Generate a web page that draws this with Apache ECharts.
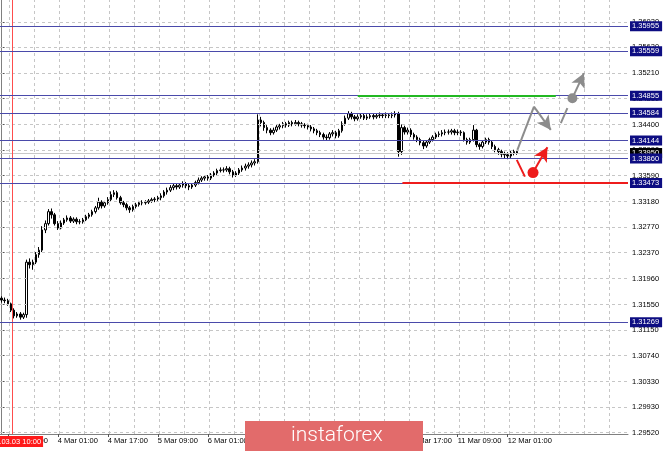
<!DOCTYPE html>
<html>
<head>
<meta charset="utf-8">
<script src="https://cdn.jsdelivr.net/npm/echarts@6/dist/echarts.min.js"></script>
<style>
html,body{margin:0;padding:0;background:#fff;}
#c{width:665px;height:451px;}
</style>
</head>
<body>
<div id="c"></div>
<script>
// ---- data ----
const startTime = '2020-03-03T07:00:00Z';
const totalSlots = 201;
const candles = [ // [open, close, low, high]
[1.3165,1.3162,1.3158,1.3168],[1.3162,1.3161,1.3157,1.3166],[1.3161,1.3156,1.3153,1.3164],[1.3156,1.3146,1.3143,1.3158],
[1.3146,1.3137,1.3133,1.3149],[1.3137,1.3140,1.3134,1.3143],[1.3140,1.3135,1.3131,1.3143],[1.3135,1.3139,1.3132,1.3142],
[1.3139,1.3222,1.3134,1.3226],[1.3222,1.3218,1.3212,1.3228],[1.3218,1.3222,1.3210,1.3226],[1.3222,1.3234,1.3219,1.3238],
[1.3234,1.3241,1.3229,1.3246],[1.3241,1.3273,1.3238,1.3279],[1.3273,1.3283,1.3268,1.3288],[1.3283,1.3302,1.3280,1.3306],
[1.3302,1.3297,1.3291,1.3307],[1.3297,1.3283,1.3280,1.3300],[1.3283,1.3276,1.3273,1.3287],[1.3276,1.3284,1.3274,1.3288],
[1.3284,1.3289,1.3281,1.3292],[1.3289,1.3292,1.3286,1.3296],[1.3292,1.3287,1.3284,1.3295],[1.3287,1.3290,1.3284,1.3293],
[1.3290,1.3286,1.3282,1.3293],[1.3286,1.3286,1.3282,1.3290],[1.3286,1.3289,1.3283,1.3292],[1.3289,1.3294,1.3287,1.3297],
[1.3294,1.3297,1.3291,1.3300],[1.3297,1.3302,1.3294,1.3305],[1.3302,1.3308,1.3299,1.3311],[1.3308,1.3317,1.3305,1.3324],
[1.3317,1.3311,1.3307,1.3320],[1.3311,1.3316,1.3308,1.3319],[1.3316,1.3321,1.3313,1.3325],[1.3321,1.3329,1.3318,1.3334],
[1.3329,1.3332,1.3325,1.3336],[1.3332,1.3324,1.3321,1.3335],[1.3324,1.3316,1.3313,1.3327],[1.3316,1.3313,1.3309,1.3319],
[1.3313,1.3308,1.3304,1.3316],[1.3308,1.3305,1.3300,1.3311],[1.3305,1.3310,1.3302,1.3313],[1.3310,1.3313,1.3307,1.3316],
[1.3313,1.3316,1.3310,1.3319],[1.3316,1.3316,1.3312,1.3320],[1.3316,1.3317,1.3313,1.3320],[1.3317,1.3319,1.3314,1.3322],
[1.3319,1.3321,1.3316,1.3324],[1.3321,1.3322,1.3317,1.3325],[1.3322,1.3324,1.3319,1.3327],[1.3324,1.3327,1.3320,1.3331],
[1.3327,1.3333,1.3324,1.3336],[1.3333,1.3336,1.3329,1.3340],[1.3336,1.3340,1.3333,1.3344],[1.3340,1.3343,1.3336,1.3347],
[1.3343,1.3341,1.3337,1.3346],[1.3341,1.3344,1.3338,1.3347],[1.3344,1.3346,1.3340,1.3350],[1.3346,1.3343,1.3339,1.3349],
[1.3343,1.3341,1.3336,1.3346],[1.3341,1.3344,1.3338,1.3347],[1.3344,1.3348,1.3341,1.3351],[1.3348,1.3352,1.3345,1.3356],
[1.3352,1.3355,1.3349,1.3358],[1.3355,1.3357,1.3351,1.3360],[1.3357,1.3355,1.3351,1.3360],[1.3355,1.3360,1.3352,1.3363],
[1.3360,1.3363,1.3357,1.3366],[1.3363,1.3367,1.3360,1.3370],[1.3367,1.3368,1.3364,1.3372],[1.3368,1.3368,1.3364,1.3372],
[1.3368,1.3370,1.3365,1.3374],[1.3370,1.3365,1.3361,1.3373],[1.3365,1.3360,1.3356,1.3368],[1.3360,1.3363,1.3357,1.3366],
[1.3363,1.3368,1.3360,1.3371],[1.3368,1.3371,1.3365,1.3375],[1.3371,1.3374,1.3367,1.3378],[1.3374,1.3376,1.3370,1.3380],
[1.3376,1.3379,1.3372,1.3383],[1.3379,1.3381,1.3375,1.3385],[1.3381,1.3447,1.3378,1.3456],[1.3447,1.3443,1.3437,1.3452],
[1.3443,1.3435,1.3430,1.3446],[1.3435,1.3431,1.3426,1.3439],[1.3431,1.3427,1.3423,1.3434],[1.3427,1.3431,1.3424,1.3435],
[1.3431,1.3436,1.3428,1.3439],[1.3436,1.3438,1.3432,1.3441],[1.3438,1.3441,1.3434,1.3444],[1.3441,1.3439,1.3435,1.3444],
[1.3439,1.3443,1.3436,1.3446],[1.3443,1.3441,1.3437,1.3446],[1.3441,1.3443,1.3438,1.3447],[1.3443,1.3441,1.3437,1.3446],
[1.3441,1.3439,1.3435,1.3444],[1.3439,1.3438,1.3434,1.3442],[1.3438,1.3436,1.3432,1.3441],[1.3436,1.3433,1.3429,1.3439],
[1.3433,1.3430,1.3426,1.3436],[1.3430,1.3427,1.3423,1.3433],[1.3427,1.3424,1.3420,1.3430],[1.3424,1.3420,1.3416,1.3427],
[1.3420,1.3419,1.3415,1.3424],[1.3419,1.3425,1.3416,1.3428],[1.3425,1.3427,1.3421,1.3431],[1.3427,1.3422,1.3418,1.3430],
[1.3422,1.3430,1.3419,1.3433],[1.3430,1.3441,1.3427,1.3445],[1.3441,1.3450,1.3438,1.3454],[1.3450,1.3457,1.3447,1.3461],
[1.3457,1.3452,1.3448,1.3460],[1.3452,1.3449,1.3445,1.3455],[1.3449,1.3452,1.3446,1.3456],[1.3452,1.3454,1.3449,1.3458],
[1.3454,1.3450,1.3447,1.3457],[1.3450,1.3452,1.3447,1.3456],[1.3452,1.3454,1.3449,1.3457],[1.3454,1.3452,1.3448,1.3457],
[1.3452,1.3454,1.3449,1.3458],[1.3454,1.3455,1.3450,1.3459],[1.3455,1.3454,1.3450,1.3458],[1.3454,1.3455,1.3450,1.3459],
[1.3455,1.3454,1.3450,1.3458],[1.3454,1.3455,1.3450,1.3459],[1.3455,1.3457,1.3451,1.3461],[1.3457,1.3397,1.3389,1.3460],
[1.3397,1.3435,1.3392,1.3440],[1.3435,1.3428,1.3424,1.3438],[1.3428,1.3431,1.3424,1.3435],[1.3431,1.3424,1.3420,1.3434],
[1.3424,1.3420,1.3416,1.3427],[1.3420,1.3416,1.3412,1.3423],[1.3416,1.3411,1.3407,1.3419],[1.3411,1.3406,1.3401,1.3414],
[1.3406,1.3412,1.3403,1.3415],[1.3412,1.3416,1.3409,1.3419],[1.3416,1.3420,1.3413,1.3423],[1.3420,1.3424,1.3417,1.3427],
[1.3424,1.3425,1.3420,1.3429],[1.3425,1.3427,1.3421,1.3431],[1.3427,1.3428,1.3423,1.3432],[1.3428,1.3428,1.3424,1.3432],
[1.3428,1.3430,1.3424,1.3433],[1.3430,1.3427,1.3423,1.3433],[1.3427,1.3428,1.3423,1.3432],[1.3428,1.3427,1.3422,1.3431],
[1.3427,1.3416,1.3413,1.3429],[1.3416,1.3412,1.3408,1.3419],[1.3412,1.3416,1.3409,1.3419],[1.3416,1.3431,1.3413,1.3439],
[1.3431,1.3408,1.3404,1.3433],[1.3408,1.3405,1.3400,1.3411],[1.3405,1.3412,1.3402,1.3415],[1.3412,1.3416,1.3409,1.3419],
[1.3416,1.3412,1.3408,1.3419],[1.3412,1.3405,1.3401,1.3414],[1.3405,1.3400,1.3396,1.3408],[1.3400,1.3397,1.3392,1.3403],
[1.3397,1.3393,1.3388,1.3400],[1.3393,1.3392,1.3386,1.3397],[1.3392,1.3390,1.3385,1.3396],[1.3390,1.3395,1.3387,1.3398],
[1.3395,1.3397,1.3391,1.3400],[1.3397,1.3395,1.3392,1.3399]
];
const tickValues = [1.29520,1.29930,1.30330,1.30740,1.31150,1.31550,1.31960,1.32370,1.32770,1.33180,1.33590,1.33990,1.34400,1.34810,1.35210,1.35620,1.36020];
const timeGridPositions = [2.5,10.5,18.5,26.5,34.5,42.5,50.5,58.5,66.5,74.5,82.5,90.5,98.5,106.5,114.5,122.5,130.5,138.5,146.5,154.5,162.5,170.5,178.5,186.5,194.5];
const levelValues = [1.35955,1.35559,1.34855,1.34584,1.34144,1.33860,1.33473,1.31269];
const currentPrice = 1.33950;
const markerIndex = 3.3;
const markerText = '2020.03.03 10:00';
const greenSegment = [[114, 1.34855],[177.4, 1.34855]];
const redSegment = [[128.3, 1.33473],[200.5, 1.33473]];
const grayPath = [[165.1, 1.33997],[170.4, 1.34683]];
const grayArrow1 = [[170.4, 1.34683],[175.8, 1.34314]];
const grayDash = [[179.0, 1.34420],[181.1, 1.34658]];
const grayCircle = [182.7, 1.34816];
const grayArrow2Tip = [186.4, 1.35212];
const redDash = [[164.9, 1.33839],[167.5, 1.33575]];
const redCircle = [170.1, 1.33638];
const redArrowTip = [174.7, 1.34040];

// ---- categories (hourly, weekends skipped) ----
const months = ['Jan','Feb','Mar','Apr','May','Jun','Jul','Aug','Sep','Oct','Nov','Dec'];
const categories = [];
let t = Date.parse(startTime);
while (categories.length < totalSlots) {
  const d = new Date(t);
  const wd = d.getUTCDay();
  if (wd !== 0 && wd !== 6) {
    const hh = String(d.getUTCHours()).padStart(2,'0');
    categories.push(d.getUTCDate() + ' ' + months[d.getUTCMonth()] + ' ' + hh + ':00');
  }
  t += 3600000;
}
const lastIdx = candles.length - 1;

const FONT = 'Liberation Sans';
const NAVY_LINE = '#4a4aaa';
const NAVY_BOX = '#0d0d82';
const GRAY = '#8c8c8c';
const RED = '#ee1c1c';
const GRID = '#c6c6c6';

const chart = echarts.init(document.getElementById('c'), null, {renderer: 'canvas'});
const seg = (a, b) => [{coord: a}, {coord: b}];

chart.setOption({
  animation: false,
  backgroundColor: '#ffffff',
  grid: {left: 0, top: 0, right: 37, bottom: 17, outerBoundsMode: 'none', containLabel: false},
  xAxis: [{
    type: 'category',
    data: categories,
    boundaryGap: true,
    axisLine: {show: true, lineStyle: {color: '#808080', width: 1}},
    axisTick: {show: true, length: 3, alignWithLabel: true, interval: (i) => (i - 2) % 16 === 0 && i <= lastIdx, lineStyle: {color: '#555'}},
    axisLabel: {
      show: true, interval: (i) => (i - 2) % 16 === 0 && i <= lastIdx,
      align: 'left', margin: 3, color: '#000', fontFamily: FONT, fontSize: 7.5
    },
    splitLine: {show: false}
  }, {
    type: 'value', min: -0.5, max: totalSlots - 0.5, show: false,
    splitLine: {show: false}
  }],
  yAxis: [{
    type: 'value',
    position: 'right',
    min: 1.2950, max: 1.3637,
    axisLine: {show: true, lineStyle: {color: '#808080', width: 1}},
    axisTick: {show: true, length: 3, customValues: tickValues, lineStyle: {color: '#555'}},
    axisLabel: {show: true, customValues: tickValues, margin: 4, color: '#000', fontFamily: FONT, fontSize: 7.5,
      formatter: (v) => v.toFixed(5)},
    splitLine: {show: false}
  }],
  series: [
    {
      name: 'grid', type: 'line', xAxisIndex: 1, yAxisIndex: 0, data: [], z: 0,
      markLine: {
        silent: true, symbol: 'none', precision: 5, label: {show: false},
        lineStyle: {color: GRID, width: 1, type: [3, 3]},
        data: tickValues.map(v => ({yAxis: v})).concat(timeGridPositions.map(x => ({xAxis: x})))
      }
    },
    {
      name: 'current', type: 'line', xAxisIndex: 1, yAxisIndex: 0, data: [], z: 1,
      markLine: {
        silent: true, symbol: 'none', precision: 5,
        lineStyle: {color: '#c8c8c8', width: 1, type: 'solid'},
        label: {show: true, position: 'end', distance: 2, formatter: (p) => Number(p.value).toFixed(5),
          backgroundColor: '#000', color: '#fff', fontFamily: FONT, fontSize: 7.5, padding: [1, 3, 1, 2]},
        data: [{yAxis: currentPrice}]
      }
    },
    {
      name: 'candles', type: 'candlestick', xAxisIndex: 0, yAxisIndex: 0, data: candles, z: 2,
      barWidth: 2,
      itemStyle: {color: '#ffffff', color0: '#000000', borderColor: '#000000', borderColor0: '#000000', borderWidth: 1}
    },
    {
      name: 'marker', type: 'line', xAxisIndex: 1, yAxisIndex: 0, data: [], z: 3,
      markLine: {
        silent: true, symbol: 'none', precision: 5,
        lineStyle: {color: '#ff4d4d', width: 1, type: 'solid', opacity: 1},
        label: {show: true, position: 'start', distance: 2, formatter: markerText,
          backgroundColor: '#ff1a1a', color: '#fff', fontFamily: FONT, fontSize: 7.5, padding: [2, 2, 1, 2]},
        data: [{xAxis: markerIndex}]
      }
    },
    {
      name: 'levels', type: 'line', xAxisIndex: 1, yAxisIndex: 0, data: [], z: 3,
      markLine: {
        silent: true, symbol: 'none', precision: 5,
        lineStyle: {color: NAVY_LINE, width: 1, type: 'solid'},
        label: {show: true, position: 'end', distance: 2, formatter: (p) => Number(p.value).toFixed(5),
          backgroundColor: NAVY_BOX, color: '#fff', fontFamily: FONT, fontSize: 7.5, padding: [1, 3, 1, 2]},
        data: levelValues.map(v => ({yAxis: v}))
      }
    },
    {
      name: 'zones', type: 'line', xAxisIndex: 1, yAxisIndex: 0, data: [], z: 4,
      markLine: {
        silent: true, symbol: 'none', precision: 5, label: {show: false},
        data: [
          [{coord: greenSegment[0], lineStyle: {color: '#22b822', width: 2, type: 'solid'}}, {coord: greenSegment[1]}],
          [{coord: redSegment[0], lineStyle: {color: RED, width: 2, type: 'solid'}}, {coord: redSegment[1]}]
        ]
      }
    },
    {
      name: 'grayPath', type: 'line', xAxisIndex: 1, yAxisIndex: 0, data: grayPath, z: 5,
      symbol: 'none', lineStyle: {color: GRAY, width: 2},
      markLine: {
        silent: true, symbol: ['none', 'arrow'], symbolSize: [11, 14], precision: 5, label: {show: false},
        lineStyle: {color: GRAY, width: 2, type: 'solid'},
        data: [
          seg(grayArrow1[0], grayArrow1[1]),
          seg(grayCircle, grayArrow2Tip),
          [{coord: grayDash[0], symbol: 'none'}, {coord: grayDash[1], symbol: 'none'}]
        ]
      },
      markPoint: {
        silent: true, symbol: 'circle', symbolSize: 10, label: {show: false},
        itemStyle: {color: GRAY},
        data: [{coord: grayCircle}]
      }
    },
    {
      name: 'redPath', type: 'line', xAxisIndex: 1, yAxisIndex: 0, data: redDash, z: 5,
      symbol: 'none', lineStyle: {color: RED, width: 2},
      markLine: {
        silent: true, symbol: ['none', 'arrow'], symbolSize: [11, 14], precision: 5, label: {show: false},
        lineStyle: {color: RED, width: 2, type: 'solid'},
        data: [seg(redCircle, redArrowTip)]
      },
      markPoint: {
        silent: true, symbol: 'circle', symbolSize: 11, label: {show: false},
        itemStyle: {color: RED},
        data: [{coord: redCircle}]
      }
    }
  ],
  graphic: [
    {type: 'rect', left: 245, top: 421, silent: true, zlevel: 5, z: 100,
      shape: {width: 178, height: 32}, style: {fill: '#e26b6b'}},
    {type: 'text', left: 'center', x: 0, silent: true, zlevel: 5, z: 101, left: 291, top: 425,
      style: {text: 'instaforex', fill: '#ffffff', font: '300 21px Roboto'}}
  ]
});
</script>
</body>
</html>
